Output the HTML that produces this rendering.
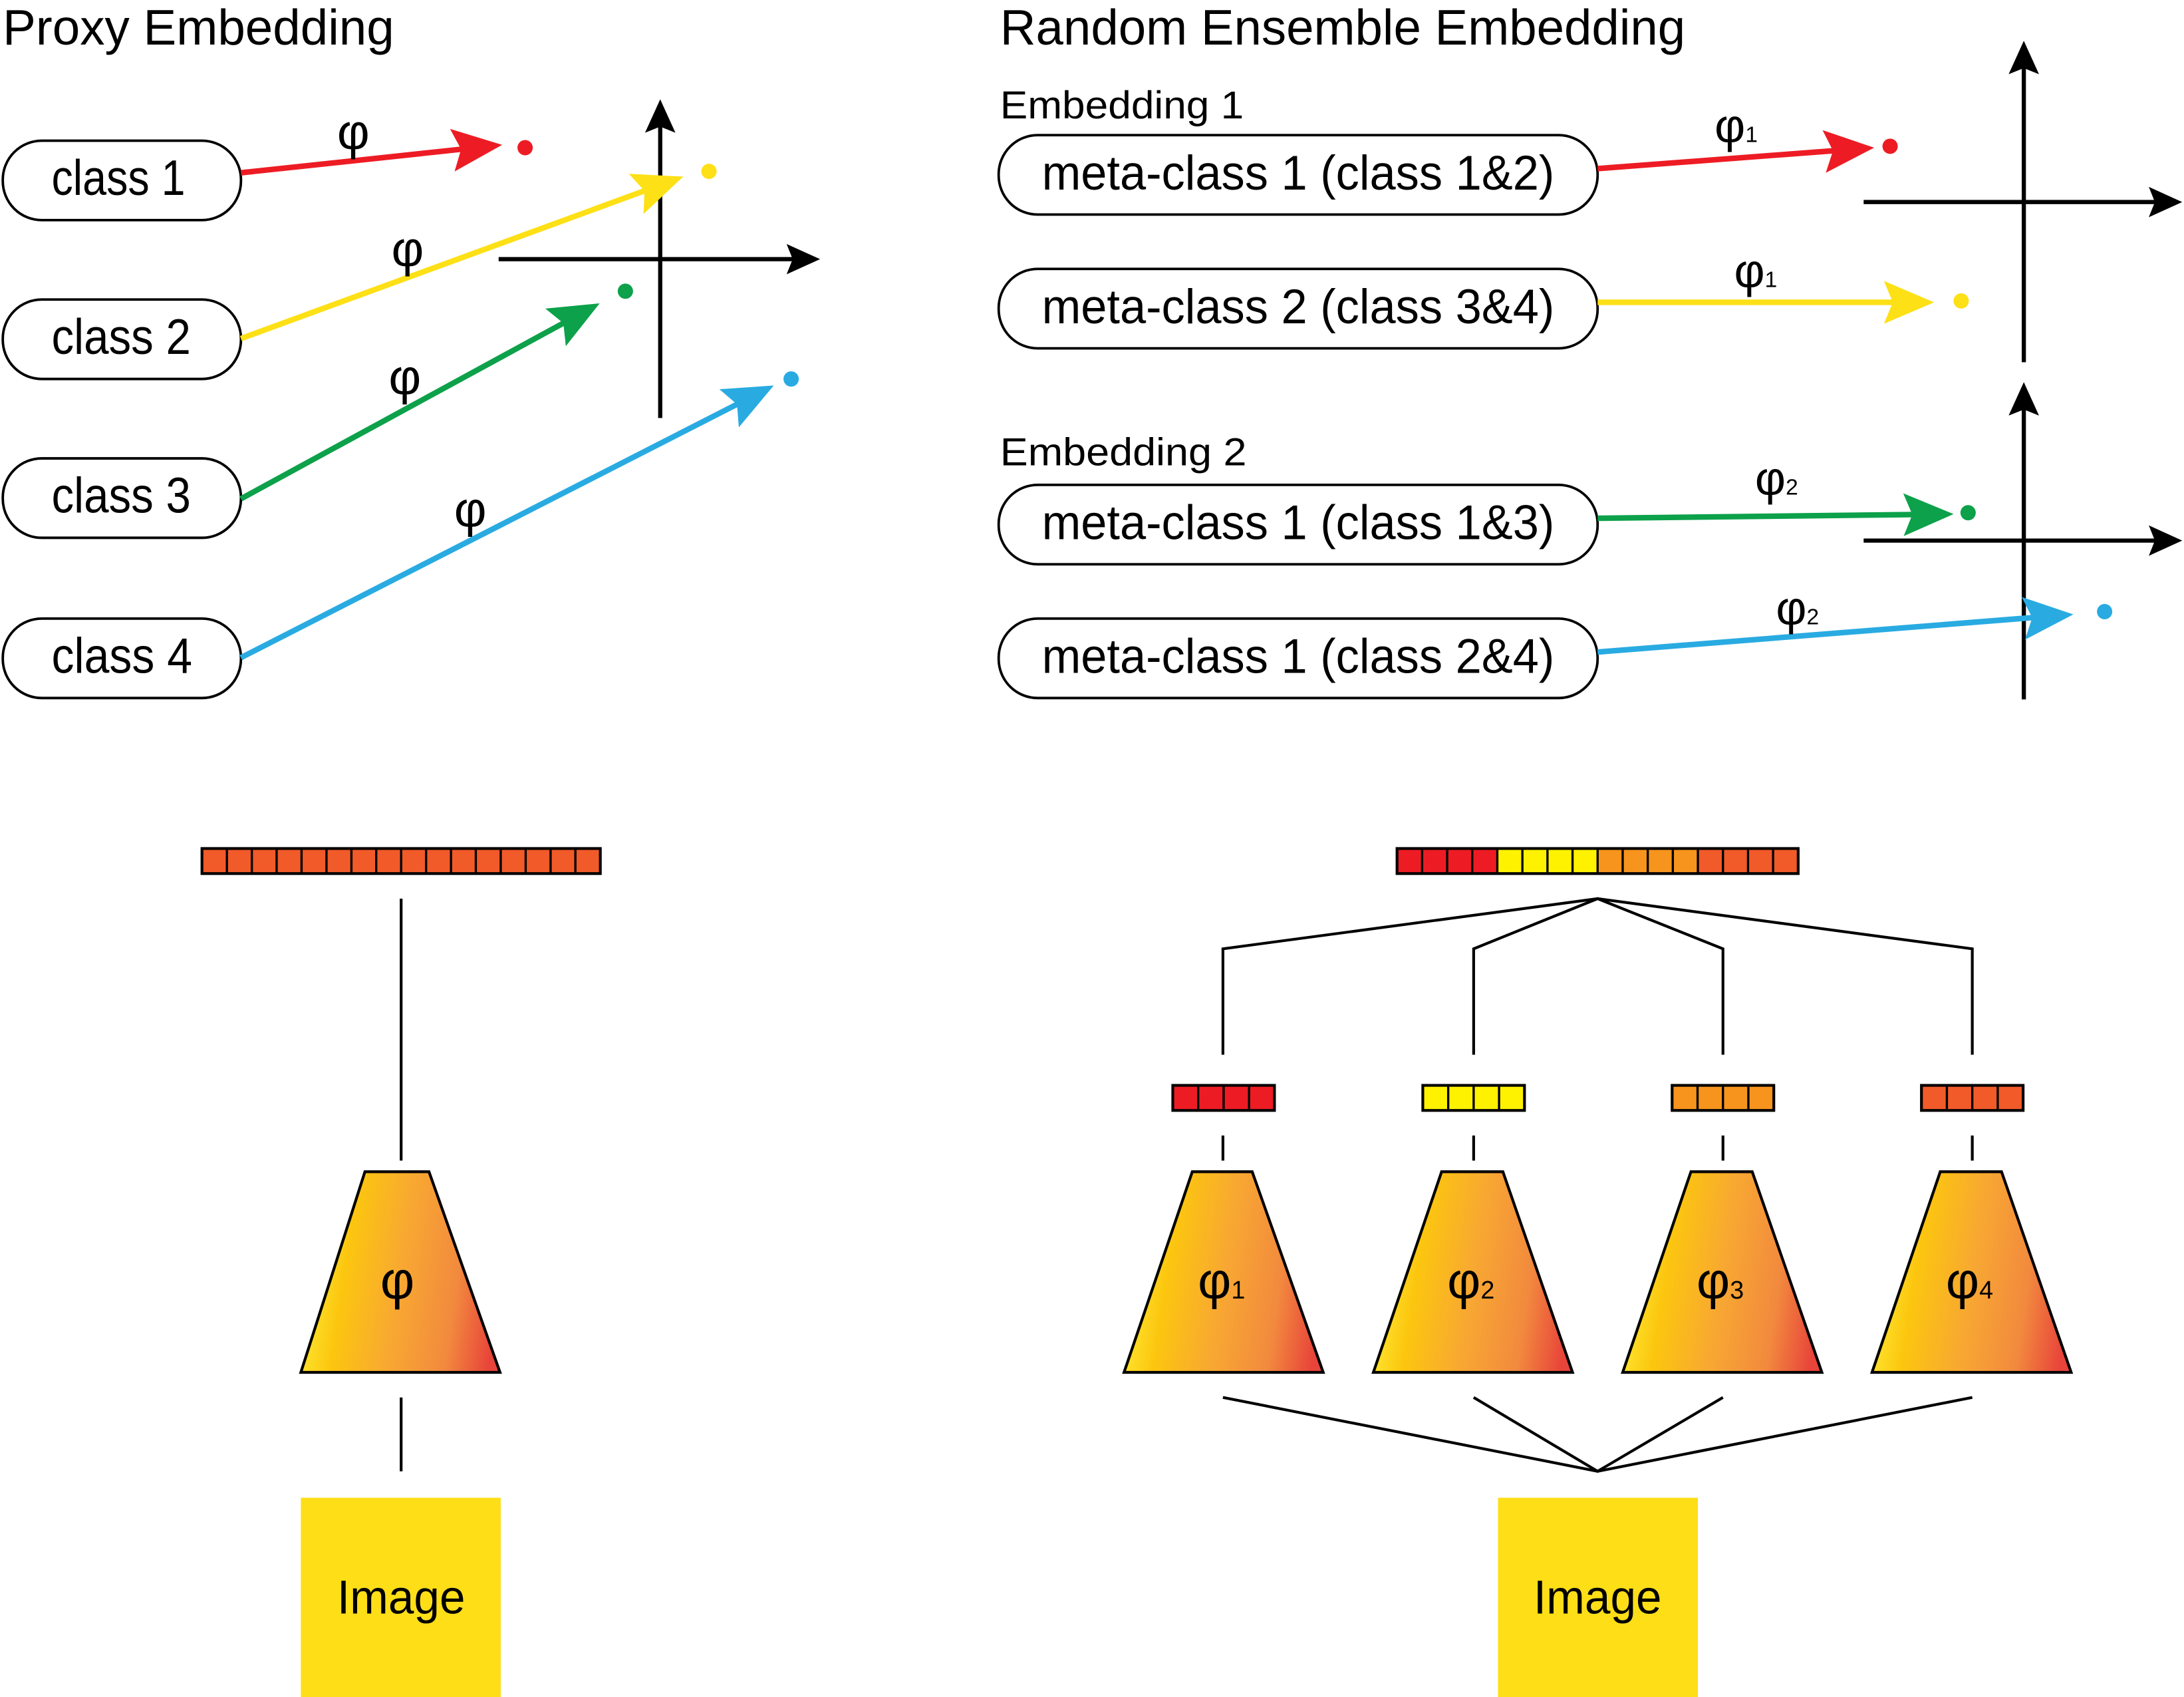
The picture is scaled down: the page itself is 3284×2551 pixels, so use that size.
<!DOCTYPE html>
<html><head><meta charset="utf-8">
<style>
html,body{margin:0;padding:0;background:#fff;}
svg{display:block;}
text{font-family:"Liberation Sans",sans-serif;fill:#000;}
</style></head>
<body>
<svg width="3284" height="2551" viewBox="0 0 1568 1218" preserveAspectRatio="none" xmlns="http://www.w3.org/2000/svg">
<defs>
<marker id="mr" markerUnits="userSpaceOnUse" markerWidth="36" markerHeight="32" viewBox="0 0 34 29" refX="24" refY="14.5" orient="auto"><path d="M0,0 L34,14.5 L0,29 L6,14.5 Z" fill="#ed1c24"/></marker>
<marker id="my" markerUnits="userSpaceOnUse" markerWidth="36" markerHeight="32" viewBox="0 0 34 29" refX="24" refY="14.5" orient="auto"><path d="M0,0 L34,14.5 L0,29 L6,14.5 Z" fill="#fde016"/></marker>
<marker id="mg" markerUnits="userSpaceOnUse" markerWidth="36" markerHeight="32" viewBox="0 0 34 29" refX="24" refY="14.5" orient="auto"><path d="M0,0 L34,14.5 L0,29 L6,14.5 Z" fill="#0ca14a"/></marker>
<marker id="mb" markerUnits="userSpaceOnUse" markerWidth="36" markerHeight="32" viewBox="0 0 34 29" refX="24" refY="14.5" orient="auto"><path d="M0,0 L34,14.5 L0,29 L6,14.5 Z" fill="#29abe2"/></marker>
<marker id="mk" markerUnits="userSpaceOnUse" markerWidth="24" markerHeight="22" viewBox="0 0 22 20" refX="14" refY="10" orient="auto"><path d="M0,0 L22,10 L0,20 L4,10 Z" fill="#000"/></marker>
<linearGradient id="gr" x1="0" y1="0.45" x2="1" y2="0.6">
<stop offset="0" stop-color="#fff03a"/>
<stop offset="0.22" stop-color="#fcc60f"/>
<stop offset="0.5" stop-color="#f8a832"/>
<stop offset="0.78" stop-color="#f28a3e"/>
<stop offset="1" stop-color="#e8443a"/>
</linearGradient>
</defs>

<text x="2" y="32" font-size="36" textLength="281" lengthAdjust="spacingAndGlyphs">Proxy Embedding</text>
<text x="718" y="32" font-size="36" textLength="492" lengthAdjust="spacingAndGlyphs">Random Ensemble Embedding</text>
<text x="718" y="85" font-size="28" textLength="175" lengthAdjust="spacingAndGlyphs">Embedding 1</text>
<text x="718" y="334" font-size="28" textLength="177" lengthAdjust="spacingAndGlyphs">Embedding 2</text>

<g fill="none" stroke="#000" stroke-width="1.8">
<rect x="2" y="101" width="171" height="57" rx="28"/>
<rect x="2" y="215" width="171" height="57" rx="28"/>
<rect x="2" y="329" width="171" height="57" rx="28"/>
<rect x="2" y="444" width="171" height="57" rx="28"/>
</g>
<g font-size="36">
<text x="37" y="140" textLength="96" lengthAdjust="spacingAndGlyphs">class 1</text>
<text x="37" y="254" textLength="100" lengthAdjust="spacingAndGlyphs">class 2</text>
<text x="37" y="368" textLength="100" lengthAdjust="spacingAndGlyphs">class 3</text>
<text x="37" y="483" textLength="101" lengthAdjust="spacingAndGlyphs">class 4</text>
</g>

<g stroke="#000" stroke-width="3" fill="none">
<line x1="474" y1="300" x2="474" y2="80" marker-end="url(#mk)"/>
<line x1="358" y1="186" x2="580" y2="186" marker-end="url(#mk)"/>
</g>

<g stroke-width="4" fill="none">
<line x1="173" y1="124" x2="350" y2="105.1" stroke="#ed1c24" marker-end="url(#mr)"/>
<line x1="173" y1="243" x2="480.6" y2="130.4" stroke="#fde016" marker-end="url(#my)"/>
<line x1="173" y1="358" x2="421.2" y2="222.8" stroke="#0ca14a" marker-end="url(#mg)"/>
<line x1="173" y1="472" x2="546.1" y2="281.5" stroke="#29abe2" marker-end="url(#mb)"/>
</g>
<circle cx="377" cy="106" r="5.5" fill="#ed1c24"/>
<circle cx="509" cy="123" r="5.5" fill="#fde016"/>
<circle cx="449" cy="209" r="5.5" fill="#0ca14a"/>
<circle cx="568" cy="272" r="5.5" fill="#29abe2"/>
<g font-size="36">
<text x="242" y="107">φ</text>
<text x="281" y="191">φ</text>
<text x="279" y="283">φ</text>
<text x="326" y="378">φ</text>
</g>

<g fill="none" stroke="#000" stroke-width="1.8">
<rect x="717" y="97" width="430" height="57" rx="28"/>
<rect x="717" y="193" width="430" height="57" rx="28"/>
<rect x="717" y="348" width="430" height="57" rx="28"/>
<rect x="717" y="444" width="430" height="57" rx="28"/>
</g>
<g font-size="35">
<text x="748" y="136" textLength="368" lengthAdjust="spacingAndGlyphs">meta-class 1 (class 1&amp;2)</text>
<text x="748" y="232" textLength="368" lengthAdjust="spacingAndGlyphs">meta-class 2 (class 3&amp;4)</text>
<text x="748" y="387" textLength="368" lengthAdjust="spacingAndGlyphs">meta-class 1 (class 1&amp;3)</text>
<text x="748" y="483" textLength="368" lengthAdjust="spacingAndGlyphs">meta-class 1 (class 2&amp;4)</text>
</g>

<g stroke="#000" stroke-width="3" fill="none">
<line x1="1453" y1="260" x2="1453" y2="38" marker-end="url(#mk)"/>
<line x1="1338" y1="145" x2="1558" y2="145" marker-end="url(#mk)"/>
<line x1="1453" y1="502" x2="1453" y2="283" marker-end="url(#mk)"/>
<line x1="1338" y1="388" x2="1558" y2="388" marker-end="url(#mk)"/>
</g>

<g stroke-width="4" fill="none">
<line x1="1147" y1="121" x2="1335" y2="106.8" stroke="#ed1c24" marker-end="url(#mr)"/>
<line x1="1147" y1="217" x2="1378" y2="217" stroke="#fde016" marker-end="url(#my)"/>
<line x1="1147" y1="372" x2="1392" y2="369.1" stroke="#0ca14a" marker-end="url(#mg)"/>
<line x1="1147" y1="468" x2="1478" y2="441.8" stroke="#29abe2" marker-end="url(#mb)"/>
</g>
<circle cx="1357" cy="105" r="5.5" fill="#ed1c24"/>
<circle cx="1408" cy="216" r="5.5" fill="#fde016"/>
<circle cx="1413" cy="368" r="5.5" fill="#0ca14a"/>
<circle cx="1511" cy="439" r="5.5" fill="#29abe2"/>
<g font-size="34">
<text x="1231" y="102">φ<tspan font-size="16">1</tspan></text>
<text x="1245" y="206">φ<tspan font-size="16">1</tspan></text>
<text x="1260" y="355">φ<tspan font-size="16">2</tspan></text>
<text x="1275" y="448">φ<tspan font-size="16">2</tspan></text>
</g>

<g stroke="#000" stroke-width="1.6">
<rect x="145" y="609" width="286" height="18" fill="#f15a29" stroke-width="2"/>
<path d="M162.9,609V627M180.8,609V627M198.6,609V627M216.5,609V627M234.4,609V627M252.3,609V627M270.1,609V627M288,609V627M305.9,609V627M323.8,609V627M341.6,609V627M359.5,609V627M377.4,609V627M395.3,609V627M413.1,609V627" fill="none"/>
</g>
<g stroke="#000" stroke-width="2" fill="none">
<line x1="288" y1="645" x2="288" y2="833"/>
<line x1="288" y1="1003" x2="288" y2="1056"/>
</g>
<polygon points="262,841 308,841 359,985 216,985" fill="url(#gr)" stroke="#000" stroke-width="2"/>
<text x="273" y="932" font-size="38">φ</text>
<rect x="216" y="1075" width="143.5" height="143" fill="#fdde17"/>
<text x="242" y="1158" font-size="34" textLength="92" lengthAdjust="spacingAndGlyphs">Image</text>

<g stroke="#000" stroke-width="1.6">
<rect x="1003" y="609" width="72" height="18" fill="#ed1c24" stroke="none"/>
<rect x="1075" y="609" width="72" height="18" fill="#fff200" stroke="none"/>
<rect x="1147" y="609" width="72" height="18" fill="#f7941d" stroke="none"/>
<rect x="1219" y="609" width="72" height="18" fill="#f15a29" stroke="none"/>
<rect x="1003" y="609" width="288" height="18" fill="none" stroke-width="2"/>
<path d="M1021,609V627M1039,609V627M1057,609V627M1075,609V627M1093,609V627M1111,609V627M1129,609V627M1147,609V627M1165,609V627M1183,609V627M1201,609V627M1219,609V627M1237,609V627M1255,609V627M1273,609V627" fill="none"/>
</g>

<g stroke="#000" stroke-width="2" fill="none">
<polyline points="878,757 878,681 1147,645 1416,681 1416,757"/>
<polyline points="1058,757 1058,681 1147,645 1237,681 1237,757"/>
<line x1="878" y1="815" x2="878" y2="833"/>
<line x1="1058" y1="815" x2="1058" y2="833"/>
<line x1="1237" y1="815" x2="1237" y2="833"/>
<line x1="1416" y1="815" x2="1416" y2="833"/>
<polyline points="878,1003 1147,1056 1416,1003"/>
<polyline points="1058,1003 1147,1056 1237,1003"/>
</g>

<g stroke="#000" stroke-width="1.6">
<rect x="842" y="779" width="73" height="18" fill="#ed1c24" stroke-width="2"/>
<path d="M860.25,779V797M878.5,779V797M896.75,779V797" fill="none"/>
<rect x="1021.5" y="779" width="73" height="18" fill="#fff200" stroke-width="2"/>
<path d="M1039.75,779V797M1058,779V797M1076.25,779V797" fill="none"/>
<rect x="1200.5" y="779" width="73" height="18" fill="#f7941d" stroke-width="2"/>
<path d="M1218.75,779V797M1237,779V797M1255.25,779V797" fill="none"/>
<rect x="1379.5" y="779" width="73" height="18" fill="#f15a29" stroke-width="2"/>
<path d="M1397.75,779V797M1416,779V797M1434.25,779V797" fill="none"/>
</g>

<g fill="url(#gr)" stroke="#000" stroke-width="2">
<polygon points="856,841 899,841 950,985 807,985"/>
<polygon points="1035,841 1079,841 1129,985 986,985"/>
<polygon points="1214,841 1258,841 1308,985 1165,985"/>
<polygon points="1393,841 1437,841 1487,985 1344,985"/>
</g>
<g font-size="37">
<text x="860" y="932">φ<tspan font-size="18">1</tspan></text>
<text x="1039" y="932">φ<tspan font-size="18">2</tspan></text>
<text x="1218" y="932">φ<tspan font-size="18">3</tspan></text>
<text x="1397" y="932">φ<tspan font-size="18">4</tspan></text>
</g>
<rect x="1075.5" y="1075" width="143.5" height="143" fill="#fdde17"/>
<text x="1101" y="1158" font-size="34" textLength="92" lengthAdjust="spacingAndGlyphs">Image</text>
</svg>
</body></html>
